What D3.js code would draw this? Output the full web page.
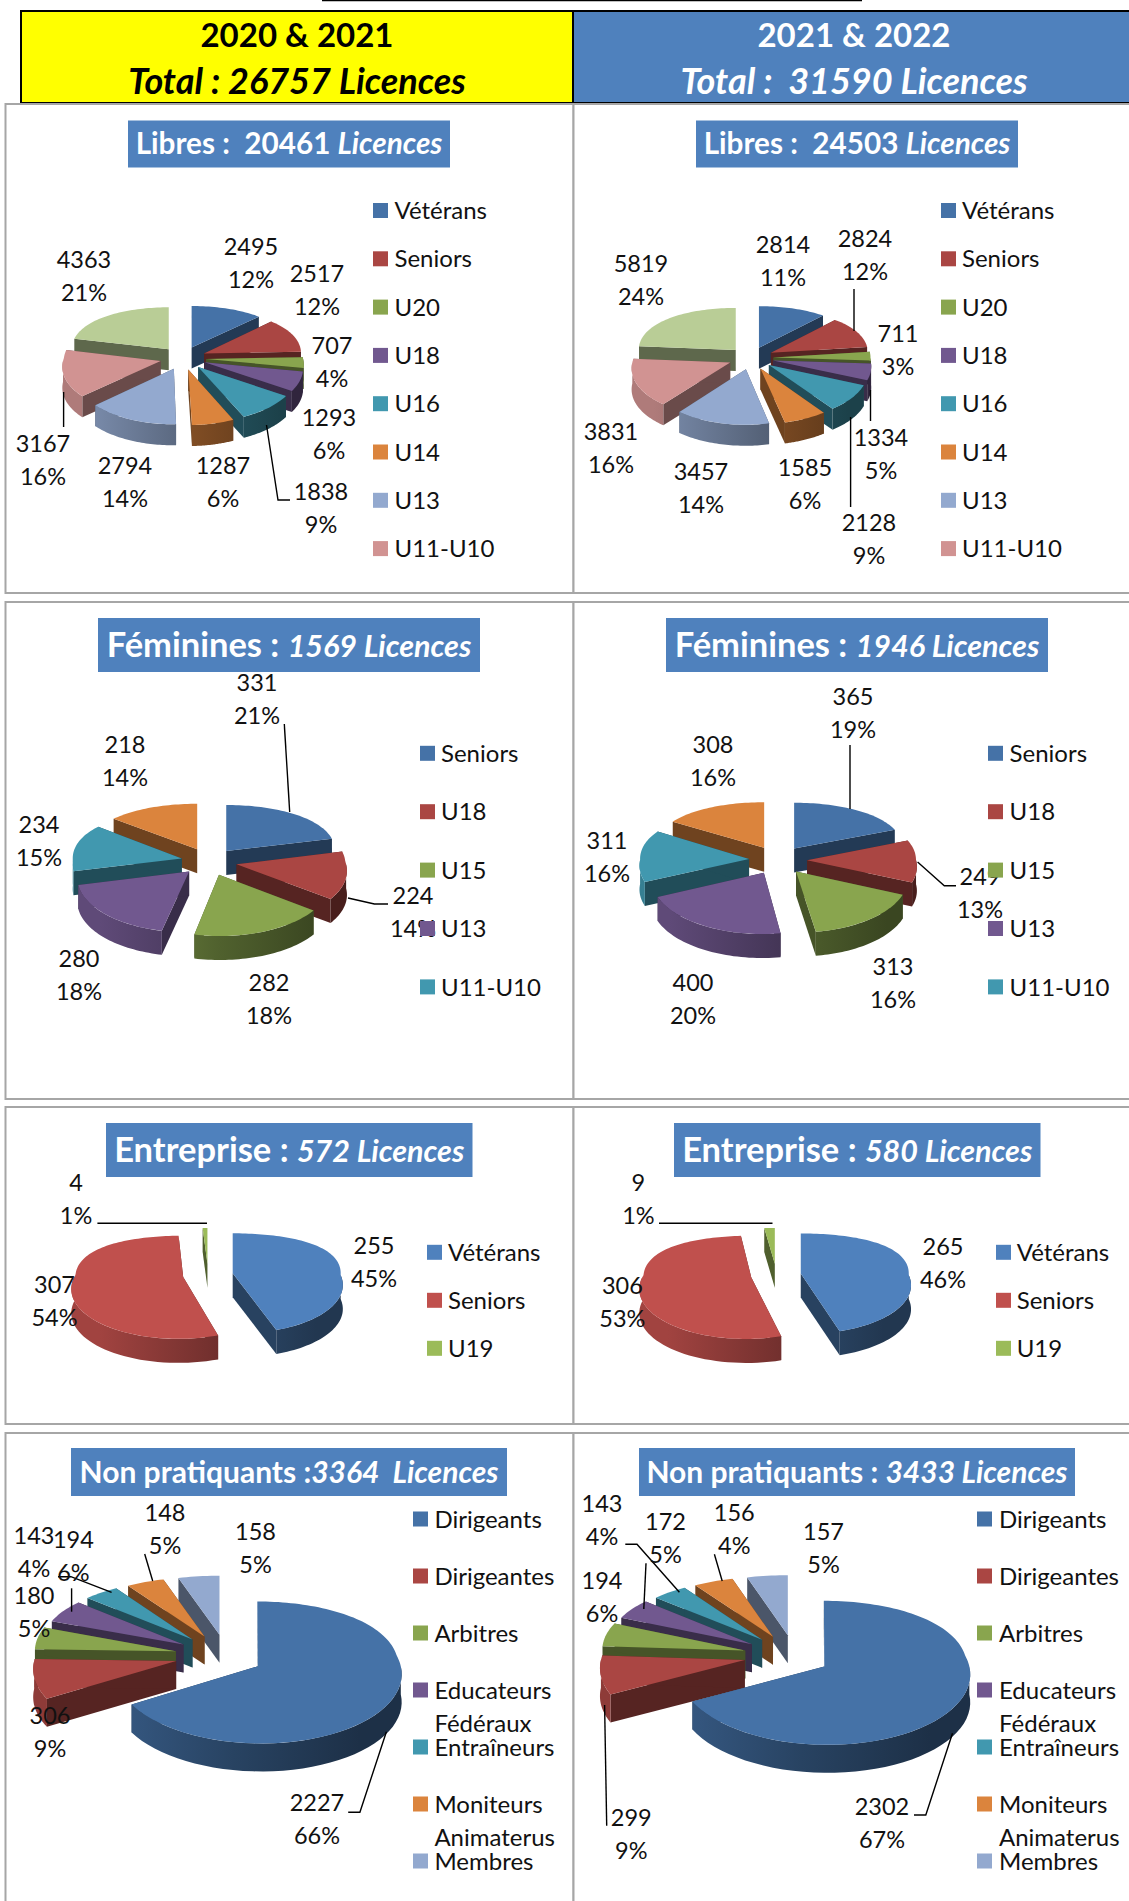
<!DOCTYPE html>
<html>
<head>
<meta charset="utf-8">
<script src="https://cdn.jsdelivr.net/npm/d3@7"></script>
<style>
    body { margin: 0; background: #fff; }
    text { font-family: Lato, sans-serif; white-space: pre; }
</style>
</head>
<body>
<div id="graph"></div>
<script>
// Categories, as the legends print them
var libresLegend = ['Vétérans', 'Seniors', 'U20', 'U18', 'U16', 'U14', 'U13', 'U11-U10'];
var femininesLegend = ['Seniors', 'U18', 'U15', 'U13', 'U11-U10'];
var entrepriseLegend = ['Vétérans', 'Seniors', 'U19'];
var nonPratLegend = ['Dirigeants', 'Dirigeantes', 'Arbitres', 'Educateurs|Fédéraux', 'Entraîneurs', 'Moniteurs|Animaterus', 'Membres'];

// Values
var libres2021 = [2495, 2517, 707, 1293, 1838, 1287, 2794, 3167, 4363];
var libres2021Pct = ['12%', '12%', '4%', '6%', '9%', '6%', '14%', '16%', '21%'];
var libres2022 = [2814, 2824, 711, 1334, 2128, 1585, 3457, 3831, 5819];
var libres2022Pct = ['11%', '12%', '3%', '5%', '9%', '6%', '14%', '16%', '24%'];
var feminines2021 = [331, 224, 282, 280, 234, 218];
var feminines2021Pct = ['21%', '14%', '18%', '18%', '15%', '14%'];
var feminines2022 = [365, 249, 313, 400, 311, 308];
var feminines2022Pct = ['19%', '13%', '16%', '20%', '16%', '16%'];
var entreprise2021 = [255, 307, 4];
var entreprise2021Pct = ['45%', '54%', '1%'];
var entreprise2022 = [265, 306, 9];
var entreprise2022Pct = ['46%', '53%', '1%'];
var nonPrat2021 = [2227, 306, 180, 194, 143, 148, 158];
var nonPrat2021Pct = ['66%', '9%', '5%', '6%', '4%', '5%', '5%'];
var nonPrat2022 = [2302, 299, 194, 172, 143, 156, 157];
var nonPrat2022Pct = ['67%', '9%', '6%', '5%', '4%', '4%', '5%'];

var darkPalette = ['#4572a7', '#aa4643', '#89a54e', '#71588f', '#4198af', '#db843d', '#93a9cf', '#d19392', '#b9cd96'];
var lightPalette = ['#4f81bd', '#c0504d', '#9bbb59'];

function CanvasApp ()
{
    var svg = d3.select ('#graph')
                .append ('svg')
                .attr ('width', 1129)
                .attr ('height', 1901)
                .style ('display', 'block');

    var defs = svg.append ('defs');

    var gradientCount = 0;

    // Flat pie plane to screen. The front half spreads out toward the viewer,
    // the back half only gets squeezed in y (the chart's back edges stay upright).
    var project = function (g, px, py)
    {
        var s = 1 + g.persp * py / g.r;
        var sx = py > 0 ? s : 1;
        return [g.cx + px * sx, g.cy + g.k * py * s];
    };

    var lineShape = d3.line ();

    var wallGradient = function (g, color)
    {
        var id = 'wall' + (gradientCount++);
        var grad = defs.append ('linearGradient')
                       .attr ('id', id)
                       .attr ('gradientUnits', 'userSpaceOnUse')
                       .attr ('x1', g.cx - g.r)
                       .attr ('x2', g.cx + g.r)
                       .attr ('y1', 0)
                       .attr ('y2', 0);
        grad.append ('stop').attr ('offset', '0%').attr ('stop-color', d3.color (color).darker (0.5).formatHex ());
        grad.append ('stop').attr ('offset', '55%').attr ('stop-color', d3.color (color).darker (1.5).formatHex ());
        grad.append ('stop').attr ('offset', '100%').attr ('stop-color', d3.color (color).darker (2.4).formatHex ());
        return 'url(#' + id + ')';
    };

    var drawPie = function (panel)
    {
        var g = panel.geom;
        var color = d3.scaleOrdinal ().domain (d3.range (panel.values.length)).range (panel.palette);

        var arcs = d3.pie ().sort (null) (panel.values);

        arcs.forEach (function (d, i)
        {
            var mid = (d.startAngle + d.endAngle) / 2;
            d.ox = g.explode * Math.sin (mid) + (g.nudge ? g.nudge[i] : 0);
            d.oy = -g.explode * Math.cos (mid);
        });

        // Back slices first so the front ones paint over them
        var ordered = arcs.slice ().sort (function (a, b) { return a.oy - b.oy; });

        var root = svg.append ('g');

        ordered.forEach (function (d)
        {
            var rim = function (a)
            {
                return project (g, d.ox + g.r * Math.sin (a), d.oy - g.r * Math.cos (a));
            };
            var apex = project (g, d.ox, d.oy);
            var down = function (p) { return [p[0], p[1] + g.depth]; };
            var base = color (d.index);
            var cutColor = d3.color (base).darker (1.9).formatHex ();

            // Cut faces
            [d.startAngle, d.endAngle].forEach (function (a)
            {
                var p = rim (a);
                root.append ('path')
                    .attr ('d', lineShape ([apex, p, down (p), down (apex)]) + 'Z')
                    .attr ('fill', cutColor);
            });

            // Outer wall, only the part facing the viewer
            var from = Math.max (d.startAngle, Math.PI / 2);
            var to = Math.min (d.endAngle, Math.PI * 1.5);
            if (to > from)
            {
                var angles = d3.range (0, 41).map (function (i) { return from + (to - from) * i / 40; });
                var upper = angles.map (rim);
                var lower = upper.map (down).reverse ();
                root.append ('path')
                    .attr ('d', lineShape (upper.concat (lower)) + 'Z')
                    .attr ('fill', wallGradient (g, base));
            }

            // Top face
            var steps = Math.max (2, Math.ceil ((d.endAngle - d.startAngle) / 0.03));
            var top = d3.range (0, steps + 1).map (function (i)
            {
                return rim (d.startAngle + (d.endAngle - d.startAngle) * i / steps);
            });
            root.append ('path')
                .attr ('d', lineShape ([apex].concat (top)) + 'Z')
                .attr ('fill', base);
        });
    };

    var drawLeaders = function (panel)
    {
        panel.leaders.forEach (function (pts)
        {
            svg.append ('path')
               .attr ('d', lineShape (pts))
               .attr ('fill', 'none')
               .attr ('stroke', '#000')
               .attr ('stroke-width', 1.4);
        });
    };

    var drawLabels = function (panel)
    {
        panel.values.forEach (function (v, i)
        {
            var pos = panel.labelPos[i];
            [String (v), panel.pcts[i]].forEach (function (txt, line)
            {
                svg.append ('text')
                   .attr ('x', pos[0])
                   .attr ('y', pos[1] + line * 32.5)
                   .attr ('dy', '0.36em')
                   .attr ('text-anchor', 'middle')
                   .attr ('font-size', 23.5)
                   .attr ('fill', '#111')
                   .text (txt);
            });
        });
    };

    var drawLegend = function (panel)
    {
        var l = panel.legendPos;
        panel.legend.forEach (function (name, i)
        {
            var y = l.y + i * l.step;
            svg.append ('rect')
               .attr ('x', l.x)
               .attr ('y', y - 7.5)
               .attr ('width', 15)
               .attr ('height', 15)
               .attr ('fill', panel.palette[i]);
            name.split ('|').forEach (function (part, n)
            {
                svg.append ('text')
                   .attr ('x', l.textX)
                   .attr ('y', y + n * 33)
                   .attr ('dy', '0.36em')
                   .attr ('font-size', 24)
                   .attr ('fill', '#111')
                   .text (part);
            });
        });
    };

    var drawTitle = function (panel)
    {
        var t = panel.titleBox;
        svg.append ('rect')
           .attr ('x', t.x)
           .attr ('y', t.y)
           .attr ('width', t.w)
           .attr ('height', t.h)
           .attr ('fill', '#4f81bd');
        var label = svg.append ('text')
                       .attr ('x', t.x + t.w / 2)
                       .attr ('y', t.y + t.h / 2)
                       .attr ('dy', '0.35em')
                       .attr ('text-anchor', 'middle')
                       .attr ('font-size', t.size)
                       .attr ('fill', '#fff')
                       .attr ('font-weight', 'bold');
        label.append ('tspan').text (panel.title[0]);
        label.append ('tspan').attr ('font-size', t.italicSize).attr ('font-style', 'italic').text (panel.title[1]);
    };

    // Header bands
    svg.append ('line').attr ('x1', 322).attr ('x2', 862).attr ('y1', 0.5).attr ('y2', 0.5).attr ('stroke', '#000').attr ('stroke-width', 1.5);
    svg.append ('rect').attr ('x', 21).attr ('y', 11).attr ('width', 552).attr ('height', 92).attr ('fill', '#ffff00').attr ('stroke', '#000').attr ('stroke-width', 2);
    svg.append ('rect').attr ('x', 573).attr ('y', 11).attr ('width', 560).attr ('height', 92).attr ('fill', '#4f81bd').attr ('stroke', '#000').attr ('stroke-width', 2);

    var headers = [
        { x: 297, fill: '#000', year: '2020 & 2021', total: 'Total : 26757 Licences' },
        { x: 854, fill: '#fff', year: '2021 & 2022', total: 'Total :  31590 Licences' }
    ];
    headers.forEach (function (h)
    {
        svg.append ('text').attr ('x', h.x).attr ('y', 35).attr ('dy', '0.36em').attr ('text-anchor', 'middle')
           .attr ('font-size', 33).attr ('font-weight', 'bold').attr ('fill', h.fill).text (h.year);
        svg.append ('text').attr ('x', h.x).attr ('y', 81).attr ('dy', '0.36em').attr ('text-anchor', 'middle')
           .attr ('font-size', 36).attr ('font-weight', 'bold').attr ('font-style', 'italic').attr ('fill', h.fill).text (h.total);
    });

    // Table frames
    var rows = [[104, 593], [602, 1099], [1107, 1424], [1433, 1912]];
    rows.forEach (function (r)
    {
        svg.append ('rect').attr ('x', 5.5).attr ('y', r[0]).attr ('width', 568).attr ('height', r[1] - r[0])
           .attr ('fill', '#fff').attr ('stroke', '#a6a6a6').attr ('stroke-width', 2);
        svg.append ('rect').attr ('x', 573.5).attr ('y', r[0]).attr ('width', 570).attr ('height', r[1] - r[0])
           .attr ('fill', '#fff').attr ('stroke', '#a6a6a6').attr ('stroke-width', 2);
    });

    var panels = [
        {
            title: ['Libres :  20461 ', 'Licences'], values: libres2021, pcts: libres2021Pct, legend: libresLegend, palette: darkPalette,
            titleBox: { x: 128, y: 120.5, w: 322, h: 47, size: 29.7, italicSize: 29.7 },
            geom: { cx: 183, cy: 358, r: 97, k: 0.5, persp: 0.1, depth: 21, explode: 23 },
            legendPos: { x: 373, textX: 394.5, y: 210.5, step: 48.3 },
            labelPos: [[251, 247], [317, 274], [332, 346], [329, 418], [321, 492], [223, 466], [125, 466], [43, 444], [84, 260]],
            leaders: [[[266.5, 425], [278, 500], [290, 500]], [[63.6, 392], [63.6, 427]]]
        },
        {
            title: ['Libres :  24503 ', 'Licences'], values: libres2022, pcts: libres2022Pct, legend: libresLegend, palette: darkPalette,
            titleBox: { x: 696, y: 120.5, w: 322, h: 47, size: 29.7, italicSize: 29.7 },
            geom: { cx: 751, cy: 358, r: 97, k: 0.5, persp: 0.1, depth: 21, explode: 22.5 },
            legendPos: { x: 941, textX: 962, y: 210.5, step: 48.3 },
            labelPos: [[783, 245], [865, 239], [898, 334], [881, 438], [869, 523], [805, 468], [701, 472], [611, 432], [641, 264]],
            leaders: [[[854, 289], [854, 331]], [[870.5, 390], [870.5, 421]], [[850.6, 417], [850.6, 507]]]
        },
        {
            title: ['Féminines : ', '1569 Licences'], values: feminines2021, pcts: feminines2021Pct, legend: femininesLegend, palette: darkPalette,
            titleBox: { x: 98, y: 618, w: 382, h: 54, size: 34.5, italicSize: 30.5 },
            geom: { cx: 209, cy: 861.5, r: 109, k: 0.49, persp: 0.1, depth: 24, explode: 28 },
            legendPos: { x: 420, textX: 441, y: 753.3, step: 58.4 },
            labelPos: [[257, 683], [413, 896], [269, 983], [79, 959], [39, 825], [125, 745]],
            leaders: [[[284.3, 724], [289.7, 812]], [[348, 898], [374.4, 904], [388, 904]]]
        },
        {
            title: ['Féminines : ', '1946 Licences'], values: feminines2022, pcts: feminines2022Pct, legend: femininesLegend, palette: darkPalette,
            titleBox: { x: 666, y: 618, w: 382, h: 54, size: 34.5, italicSize: 30.5 },
            geom: { cx: 778, cy: 860, r: 109, k: 0.49, persp: 0.1, depth: 24, explode: 29 },
            legendPos: { x: 988, textX: 1009.6, y: 753.3, step: 58.4 },
            labelPos: [[853, 697], [980, 877], [893, 967], [693, 983], [607, 841], [713, 745]],
            leaders: [[[850, 745], [850, 809]], [[917.6, 862], [944.3, 885.7], [956, 885.7]]]
        },
        {
            title: ['Entreprise : ', '572 Licences'], values: entreprise2021, pcts: entreprise2021Pct, legend: entrepriseLegend, palette: lightPalette,
            titleBox: { x: 106, y: 1123, w: 366.5, h: 54, size: 34.5, italicSize: 30.5 },
            geom: { cx: 208, cy: 1275, r: 108, k: 0.47, persp: 0.2, depth: 24, explode: 25 },
            legendPos: { x: 427, textX: 448, y: 1252.3, step: 48 },
            labelPos: [[374, 1246], [54.5, 1285], [76, 1183]],
            leaders: [[[97.4, 1223.3], [207, 1223.3]]]
        },
        {
            title: ['Entreprise : ', '580 Licences'], values: entreprise2022, pcts: entreprise2022Pct, legend: entrepriseLegend, palette: lightPalette,
            titleBox: { x: 674, y: 1123, w: 366.5, h: 54, size: 34.5, italicSize: 30.5 },
            geom: { cx: 776, cy: 1275, r: 108, k: 0.47, persp: 0.2, depth: 24, explode: 25 },
            legendPos: { x: 996, textX: 1016.7, y: 1252.3, step: 48 },
            labelPos: [[943, 1247], [622.4, 1286], [638.4, 1183]],
            leaders: [[[659, 1223.3], [772.5, 1223.3]]]
        },
        {
            title: ['Non pratiquants :', '3364  Licences'], values: nonPrat2021, pcts: nonPrat2021Pct, legend: nonPratLegend, palette: darkPalette,
            titleBox: { x: 71, y: 1448, w: 436, h: 48, size: 30, italicSize: 30 },
            geom: { cx: 219, cy: 1655.5, r: 141, k: 0.49, persp: 0.09, depth: 28, explode: 44, nudge: [0, 0, 0, 2, 2, 4, 7] },
            legendPos: { x: 413, textX: 434.4, y: 1519, step: 57 },
            labelPos: [[317, 1803], [50, 1716], [34, 1596], [73.4, 1540], [34, 1536], [165, 1513], [255.5, 1532]],
            leaders: [[[386.4, 1731.7], [359.9, 1812.3], [348.2, 1812.3]], [[71.6, 1588.3], [71.6, 1611.7]], [[111.6, 1592.3], [70.9, 1576.7], [58, 1576.7]], [[144.7, 1554], [152.7, 1581]]]
        },
        {
            title: ['Non pratiquants : ', '3433 Licences'], values: nonPrat2022, pcts: nonPrat2022Pct, legend: nonPratLegend, palette: darkPalette,
            titleBox: { x: 639, y: 1448, w: 436, h: 48, size: 30, italicSize: 30 },
            geom: { cx: 787, cy: 1655.5, r: 143, k: 0.49, persp: 0.09, depth: 28, explode: 43, nudge: [0, 0, 0, 1, 3, 4, 7] },
            legendPos: { x: 977, textX: 999, y: 1519, step: 57 },
            labelPos: [[882, 1807], [631.3, 1818], [602, 1581], [665.5, 1522], [602, 1504], [734.3, 1513], [823.5, 1532]],
            leaders: [[[952.5, 1733.3], [925.8, 1815], [914, 1815]], [[604.6, 1705], [606.7, 1825.7]], [[646, 1563.3], [643.8, 1609]], [[625.3, 1544.3], [637, 1544.3], [679.4, 1592.3]], [[714.4, 1554.3], [722.2, 1581]]]
        }
    ];

    panels.forEach (function (panel)
    {
        drawTitle (panel);
        drawPie (panel);
        drawLeaders (panel);
        drawLabels (panel);
        drawLegend (panel);
    });
}

CanvasApp ();
</script>
</body>
</html>
